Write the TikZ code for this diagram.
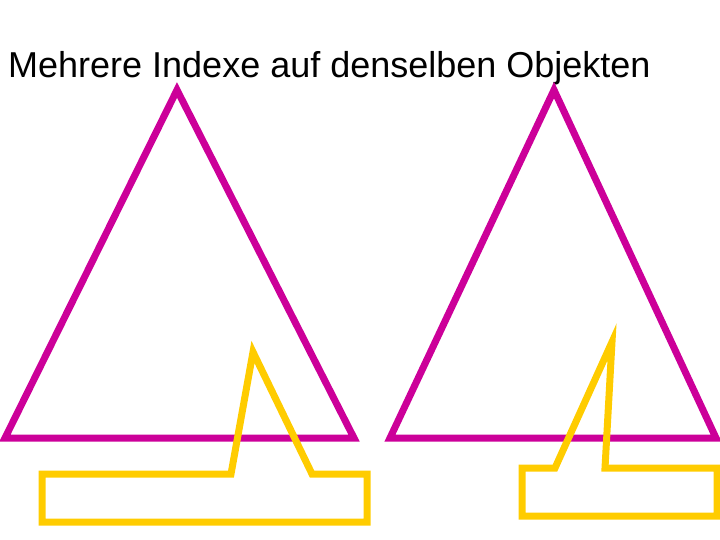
\documentclass[tikz,border=0pt]{standalone}
\usepackage{fontspec}
\setmainfont{Liberation Sans}
\definecolor{idxmagenta}{RGB}{204,0,153}
\definecolor{objyellow}{RGB}{255,204,0}
\tikzset{
  indextri/.style={draw=idxmagenta, line width=7pt, line join=miter},
  objcallout/.style={draw=objyellow, line width=7pt, line join=miter},
}
\begin{document}
\begin{tikzpicture}[x=1pt, y=-1pt]
\useasboundingbox (0,0) rectangle (720,540);
\node[anchor=base west, inner sep=0pt, font=\fontsize{36}{40}\selectfont] (title) at (8,78) {Mehrere Indexe auf denselben Objekten};
% left index
\coordinate (tid0) at (177,90);
\coordinate (tid1) at (5,438);
\coordinate (tid2) at (354,438);
\draw[indextri] (tid0) -- (tid1) -- (tid2) -- cycle;
% right index
\coordinate (tid3) at (554,90);
\coordinate (tid4) at (390,438);
\coordinate (tid5) at (716,438);
\draw[indextri] (tid3) -- (tid4) -- (tid5) -- cycle;
% objects, left
\draw[objcallout] (42,474) -- (231,474) -- (253,352) -- (312,474) -- (367,474) -- (367,522) -- (42,522) -- cycle;
% objects, right
\draw[objcallout] (522,468) -- (555,468) -- (612,342) -- (605,468) -- (717,468) -- (717,516) -- (522,516) -- cycle;
\end{tikzpicture}
\end{document}
